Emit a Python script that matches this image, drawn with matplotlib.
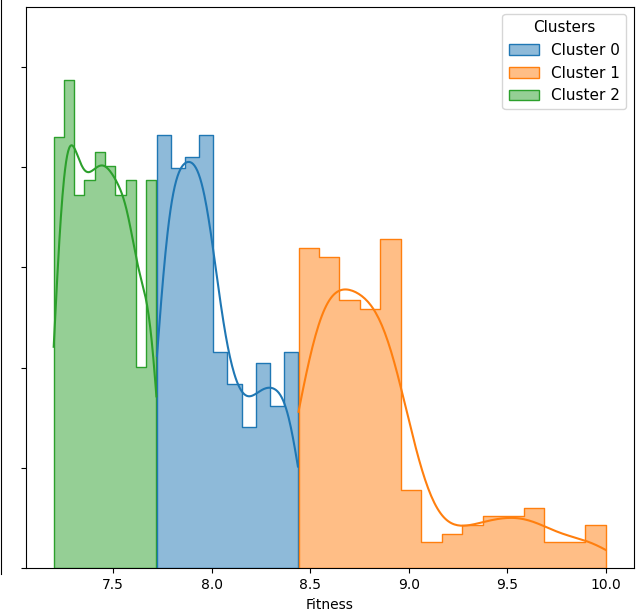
import matplotlib
matplotlib.use("Agg")
import matplotlib.pyplot as plt
import numpy as np
import pandas as pd
import seaborn as sns
from matplotlib.patches import Patch
from matplotlib.colors import to_rgba

# histogram bins (range of each cluster + counts per bin)
clusters = ["Cluster 0", "Cluster 1", "Cluster 2"]
colors = ["#1f77b4", "#ff7f0e", "#2ca02c"]
ranges = [(7.722, 8.437), (8.440, 9.998), (7.198, 7.719)]
counts_0 = [40, 37, 38, 40, 20, 17, 13, 19, 15, 20]
counts_1 = [37, 36, 31, 30, 38, 9, 3, 4, 5, 6, 6, 7, 3, 3, 5]
counts_2 = [30, 34, 26, 27, 29, 28, 26, 27, 14, 27]
counts = [counts_0, counts_1, counts_2]

fig = plt.figure(figsize=(6.41, 6.15), dpi=100)

# neighbouring subplot, only its right edge is inside the crop
ax0 = fig.add_axes([-0.5, 0.066, 0.5 + 1.0 / 641, 1.0])
ax0.set_xticks([])
ax0.set_yticks([])
for s in ["left", "top", "bottom"]:
    ax0.spines[s].set_visible(False)

ax = fig.add_axes([25.7 / 641, 46.7 / 615, (634 - 25.7) / 641, (568.3 - 6.7) / 615])

# draw green first so the order of overlap looks like the original
for i in [2, 0, 1]:
    lo, hi = ranges[i]
    edges = np.linspace(lo, hi, len(counts[i]) + 1)
    centers = (edges[:-1] + edges[1:]) / 2
    df = pd.DataFrame({"Fitness": np.repeat(centers, counts[i])})
    sns.histplot(data=df, x="Fitness", bins=edges, stat="density", element="step",
                 kde=True, kde_kws={"cut": 3, "clip": (lo, hi)},
                 color=colors[i], alpha=0.5, ax=ax)

ax.set_xlim(7.056, 10.142)
ax.set_ylim(0, 2.80)
ax.set_yticks([0, 0.5, 1.0, 1.5, 2.0, 2.5])
ax.set_yticklabels([])
ax.set_ylabel("")
ax.set_xlabel("Fitness")

handles = [Patch(facecolor=to_rgba(c, 0.5), edgecolor=c) for c in colors]
ax.legend(handles, clusters, title="Clusters", loc="upper right",
          fontsize=11, title_fontsize=11)

fig.savefig("out.png", dpi=100)
